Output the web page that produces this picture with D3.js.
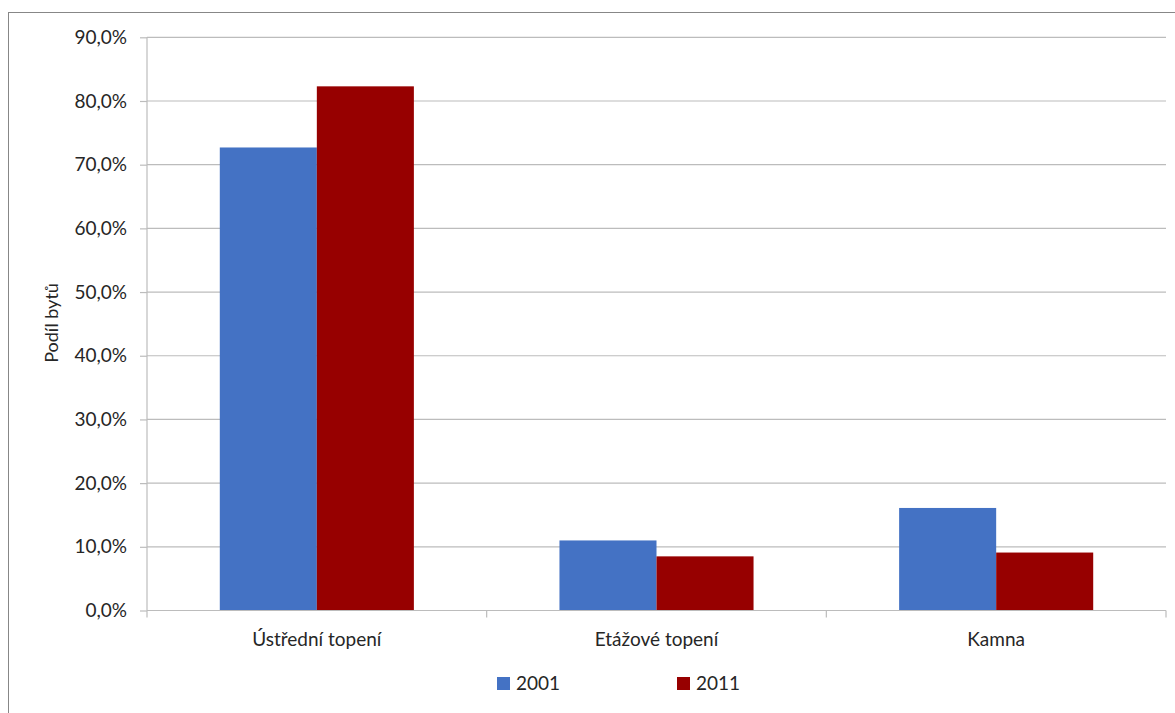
<!DOCTYPE html>
<html><head><meta charset="utf-8">
<script src="https://cdn.jsdelivr.net/npm/d3@7"></script>
<style>body{margin:0;background:#fff}svg{display:block}text{font-family:Lato,"Open Sans",sans-serif;fill:#262626}</style>
</head><body><svg id="c" width="1175" height="713"></svg>
<script>
const categories = ["Ústřední topení", "Etážové topení", "Kamna"];
const seriesNames = ["2001", "2011"];
const values2001 = [72.7, 11.0, 16.1];
const values2011 = [82.3, 8.5, 9.1];
const yTicks = [0,10,20,30,40,50,60,70,80,90];
const colors = ["#4472C4", "#970000"];

const svg = d3.select("#c");
const L = 147, R = 1166, T = 37.3, B = 610.5;

svg.append("rect").attr("x",8.5).attr("y",12.5).attr("width",1180).attr("height",720)
  .attr("fill","none").attr("stroke","#878787");

const y = d3.scaleLinear().domain([0,90]).range([B,T]);
const x0 = d3.scaleBand().domain(categories).range([L,R]).paddingInner(0.4286).paddingOuter(0.2143);
const x1 = d3.scaleBand().domain(seriesNames).range([0,x0.bandwidth()]);

// gridlines
svg.append("g").selectAll("line").data(yTicks.filter(d=>d>0)).join("line")
  .attr("x1",L).attr("x2",R).attr("y1",d=>y(d)).attr("y2",d=>y(d))
  .attr("stroke","#bcbcbc").attr("stroke-width",1.2);

// y axis
const ya = svg.append("g").attr("transform",`translate(${L},0)`)
  .call(d3.axisLeft(y).tickValues(yTicks).tickSize(7).tickPadding(13)
    .tickFormat(d=>d3.format(".1f")(d).replace(".",",")+"%"));
ya.select(".domain").attr("stroke","#bcbcbc").attr("stroke-width",1.2).attr("d",`M0,${T}V${B}`);
ya.selectAll(".tick line").attr("stroke","#bcbcbc").attr("stroke-width",1.2);
ya.selectAll(".tick text").style("font-size","19px").attr("fill","#262626").attr("font-family","Lato");

// bars
const data = categories.map((c,i)=>({c, v:[values2001[i], values2011[i]]}));
const g = svg.append("g").selectAll("g").data(data).join("g")
  .attr("transform",d=>`translate(${x0(d.c)},0)`);
g.selectAll("rect").data(d=>d.v.map((v,j)=>({v,s:seriesNames[j],j}))).join("rect")
  .attr("x",d=>x1(d.s)).attr("width",x1.bandwidth())
  .attr("y",d=>y(d.v)).attr("height",d=>B-y(d.v))
  .attr("fill",d=>colors[d.j]);

// x axis
const step = (R-L)/categories.length;
svg.append("line").attr("x1",L).attr("x2",R).attr("y1",B).attr("y2",B).attr("stroke","#bcbcbc").attr("stroke-width",1.2);
svg.append("g").selectAll("line").data(d3.range(categories.length+1)).join("line")
  .attr("x1",i=>L+i*step).attr("x2",i=>L+i*step).attr("y1",B).attr("y2",B+7)
  .attr("stroke","#bcbcbc").attr("stroke-width",1.2);
svg.append("g").selectAll("text").data(categories).join("text")
  .attr("x",d=>x0(d)+x0.bandwidth()/2).attr("y",646).attr("text-anchor","middle")
  .style("font-size","19px").text(d=>d);

// axis title
svg.append("text").attr("transform","translate(58,323) rotate(-90)").attr("text-anchor","middle")
  .style("font-size","18px").text("Podíl bytů");

// legend
const legX = [497, 677];
const lg = svg.append("g").selectAll("g").data(seriesNames).join("g")
  .attr("transform",(d,i)=>`translate(${legX[i]},677)`);
lg.append("rect").attr("width",13).attr("height",13).attr("fill",(d,i)=>colors[i]);
lg.append("text").attr("x",19).attr("y",13).style("font-size","19px").text(d=>d);
</script></body></html>
